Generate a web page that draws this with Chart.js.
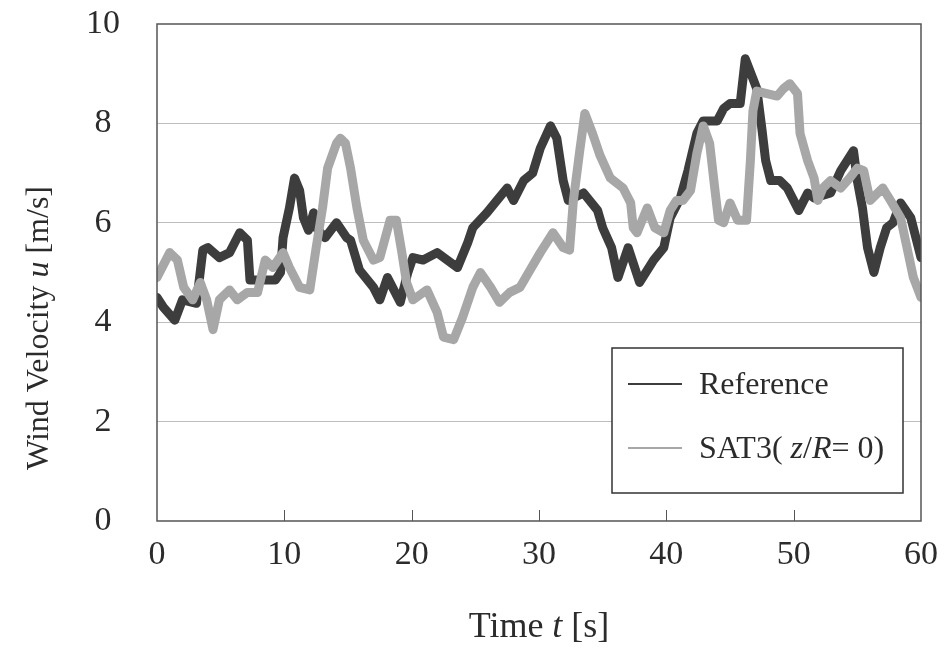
<!DOCTYPE html>
<html>
<head>
<meta charset="utf-8">
<title>Wind Velocity</title>
<script src="https://cdn.jsdelivr.net/npm/chart.js@4/dist/chart.umd.min.js"></script>
<style>
  html, body { margin: 0; padding: 0; background: #fff; }
  canvas { display: block; }
</style>
</head>
<body>
<canvas id="wind-chart" width="945" height="664"></canvas>
<script>
// Reference series (dark)
const refTime = [0, 0.5, 1.4, 2, 3.1, 3.6, 4, 4.9, 5.7, 6.5, 7.1, 7.3, 8.1, 9.3, 9.7, 9.9, 10.4, 10.8, 11.2, 11.5, 11.9, 12.3, 12.5, 13.2, 14.1, 14.9, 15.2, 15.9, 17, 17.5, 18.1, 19.1, 19.7, 20.1, 20.9, 22, 22.8, 23.6, 24.4, 24.8, 25.9, 26.7, 27.5, 28, 28.8, 29.5, 30.1, 30.9, 31.4, 31.9, 32.3, 33.5, 34.6, 35, 35.7, 36.2, 37, 37.9, 39, 39.8, 40.3, 41.1, 41.7, 42.4, 42.9, 44, 44.5, 45, 45.8, 46.2, 46.8, 47.1, 47.5, 47.8, 48.2, 48.9, 49.5, 50.4, 51.1, 51.6, 52.9, 53.7, 54.7, 55, 55.4, 55.8, 56.3, 56.8, 57.3, 57.8, 58.4, 59.2, 60]
const refSpeed = [4.5, 4.3, 4.04, 4.45, 4.38, 5.45, 5.5, 5.3, 5.4, 5.8, 5.65, 4.85, 4.85, 4.85, 5.0, 5.7, 6.3, 6.9, 6.65, 6.1, 5.85, 6.2, 5.9, 5.7, 6.0, 5.7, 5.65, 5.05, 4.7, 4.45, 4.9, 4.4, 5.0, 5.3, 5.25, 5.4, 5.25, 5.1, 5.6, 5.9, 6.2, 6.45, 6.7, 6.45, 6.85, 7.0, 7.5, 7.95, 7.7, 6.85, 6.45, 6.6, 6.25, 5.9, 5.5, 4.9, 5.5, 4.8, 5.25, 5.5, 6.1, 6.5, 7.05, 7.8, 8.05, 8.05, 8.3, 8.4, 8.4, 9.3, 8.9, 8.7, 7.9, 7.25, 6.85, 6.85, 6.7, 6.25, 6.6, 6.5, 6.6, 7.05, 7.45, 6.85, 6.3, 5.5, 5.0, 5.5, 5.9, 6.0, 6.4, 6.1, 5.3]

// SAT3 series (grey)
const satTime = [0, 1, 1.6, 2.1, 2.8, 3.4, 3.9, 4.4, 4.9, 5.7, 6.3, 7.1, 7.9, 8.5, 9.1, 9.9, 10.4, 11.2, 12, 12.5, 13, 13.4, 14.1, 14.4, 14.8, 15.2, 15.7, 16.2, 17, 17.5, 18.3, 18.8, 19.2, 19.6, 20.1, 21.2, 22, 22.5, 23.3, 24, 24.8, 25.4, 26.2, 26.9, 27.7, 28.5, 29.3, 30.1, 31.1, 31.9, 32.4, 32.7, 33.2, 33.6, 34.2, 34.8, 35.6, 36.6, 37.2, 37.4, 37.7, 38.5, 39.1, 39.8, 40.3, 40.8, 41.3, 41.9, 42.4, 42.9, 43.4, 43.8, 44.1, 44.5, 45, 45.6, 46.3, 46.6, 46.8, 47.1, 47.9, 48.7, 49.2, 49.7, 50.3, 50.5, 51.1, 51.6, 51.9, 52.3, 52.9, 53.7, 54.4, 55, 55.5, 56, 56.6, 57, 57.6, 58.4, 58.9, 59.4, 60]
const satSpeed = [4.9, 5.4, 5.25, 4.7, 4.45, 4.8, 4.45, 3.85, 4.45, 4.65, 4.45, 4.6, 4.6, 5.25, 5.1, 5.4, 5.1, 4.7, 4.65, 5.5, 6.3, 7.1, 7.6, 7.7, 7.6, 7.1, 6.3, 5.65, 5.25, 5.3, 6.05, 6.05, 5.45, 4.8, 4.45, 4.65, 4.2, 3.7, 3.65, 4.1, 4.7, 5.0, 4.7, 4.4, 4.6, 4.7, 5.05, 5.4, 5.8, 5.5, 5.45, 6.45, 7.45, 8.2, 7.8, 7.35, 6.9, 6.7, 6.4, 5.9, 5.8, 6.3, 5.9, 5.8, 6.25, 6.45, 6.45, 6.65, 7.4, 7.95, 7.6, 6.7, 6.05, 6.0, 6.4, 6.05, 6.05, 7.25, 8.25, 8.65, 8.6, 8.55, 8.7, 8.8, 8.6, 7.8, 7.25, 6.9, 6.45, 6.7, 6.85, 6.7, 6.9, 7.1, 7.05, 6.45, 6.6, 6.7, 6.45, 6.1, 5.5, 4.9, 4.5]

const xTicks = [0, 10, 20, 30, 40, 50, 60]
const yTicks = [0, 2, 4, 6, 8, 10]

const serif = '"Liberation Serif", "Times New Roman", serif'
const dark = '#3d3d3d'
const grey = '#a7a7a7'
const textColor = '#2b2b2b'

// legend text in pieces so z and R can be italic
const legendParts = [
    [['Reference', false]],
    [['SAT3( ', false], ['z', true], ['/', false], ['R', true], ['= 0)', false]]
]
const xTitleParts = [['Time ', false], ['t', true], [' [s]', false]]
const yTitleParts = [['Wind Velocity ', false], ['u', true], [' [m/s]', false]]

function toPoints(ts, vs) {
    return ts.map((t, i) => ({x: t, y: vs[i]}))
}

function richWidth(c, parts, size) {
    let w = 0
    parts.forEach(p => {
        c.font = (p[1] ? 'italic ' : '') + size + 'px ' + serif
        w += c.measureText(p[0]).width
    })
    return w
}

function drawRich(c, parts, x, y, size, align) {
    let start = x
    if (align === 'center') start = x - richWidth(c, parts, size) / 2
    c.textAlign = 'left'
    c.textBaseline = 'middle'
    c.fillStyle = textColor
    parts.forEach(p => {
        c.font = (p[1] ? 'italic ' : '') + size + 'px ' + serif
        c.fillText(p[0], start, y)
        start += c.measureText(p[0]).width
    })
}

const extras = {
    id: 'extras',
    afterDatasetsDraw(chart) {
        const c = chart.ctx
        const a = chart.chartArea
        const xs = chart.scales.x
        c.save()

        // frame round the plot
        c.strokeStyle = '#555'
        c.lineWidth = 1.5
        c.strokeRect(a.left, a.top, a.right - a.left, a.bottom - a.top)

        // short inner tick marks on the time axis
        c.lineWidth = 1
        xTicks.slice(1, -1).forEach(t => {
            const px = Math.round(xs.getPixelForValue(t)) + 0.5
            c.beginPath()
            c.moveTo(px, a.bottom)
            c.lineTo(px, a.bottom - 11)
            c.stroke()
        })

        // legend box
        const bw = 291, bh = 145
        const bx = a.right - 18 - bw
        const by = a.bottom - 28 - bh
        c.fillStyle = '#fff'
        c.fillRect(bx, by, bw, bh)
        c.strokeStyle = '#333'
        c.lineWidth = 1.5
        c.strokeRect(bx, by, bw, bh)

        const rows = [by + 36, by + 100]
        chart.data.datasets.forEach((ds, i) => {
            c.strokeStyle = ds.borderColor
            c.lineWidth = 2
            c.beginPath()
            c.moveTo(bx + 16, rows[i])
            c.lineTo(bx + 70, rows[i])
            c.stroke()
            drawRich(c, legendParts[i], bx + 87, rows[i] + 2, 32, 'left')
        })

        // axis titles
        drawRich(c, xTitleParts, (a.left + a.right) / 2, a.bottom + 107, 36, 'center')
        c.translate(40, 328)
        c.rotate(-Math.PI / 2)
        drawRich(c, yTitleParts, 0, 0, 32, 'center')
        c.restore()
    }
}

const ctx = document.getElementById('wind-chart')

const windChart = new Chart(ctx, {
    type: 'line',
    data: {
        datasets: [{
            label: 'Reference',
            data: toPoints(refTime, refSpeed),
            borderColor: dark,
            borderWidth: 9,
            pointRadius: 0,
            borderJoinStyle: 'round',
            borderCapStyle: 'round',
            order: 1
        }, {
            label: 'SAT3( z/R= 0)',
            data: toPoints(satTime, satSpeed),
            borderColor: grey,
            borderWidth: 9,
            pointRadius: 0,
            borderJoinStyle: 'round',
            borderCapStyle: 'round',
            order: 0
        }]
    },
    options: {
        responsive: false,
        animation: false,
        layout: {
            padding: {left: 0, right: 24, top: 24, bottom: 0}
        },
        plugins: {
            legend: {display: false},
            tooltip: {enabled: false}
        },
        scales: {
            x: {
                type: 'linear',
                min: 0,
                max: 60,
                afterFit: s => { s.height = 143; s.paddingLeft = 0; s.paddingRight = 0 },
                afterBuildTicks: s => { s.ticks = xTicks.map(v => ({value: v})) },
                grid: {display: false, drawTicks: false},
                border: {display: false},
                ticks: {
                    padding: 14,
                    color: textColor,
                    font: {family: serif, size: 34}
                }
            },
            y: {
                min: 0,
                max: 10,
                afterFit: s => { s.width = 157; s.paddingTop = 0; s.paddingBottom = 0 },
                afterBuildTicks: s => { s.ticks = yTicks.map(v => ({value: v})) },
                grid: {
                    drawTicks: false,
                    color: c => (c.tick.value === 0 || c.tick.value === 10) ? 'rgba(0,0,0,0)' : '#bdbdbd',
                    lineWidth: 1
                },
                border: {display: false},
                ticks: {
                    padding: 37,
                    crossAlign: 'center',
                    color: textColor,
                    font: {family: serif, size: 34}
                }
            }
        }
    },
    plugins: [extras]
});
</script>
</body>
</html>
